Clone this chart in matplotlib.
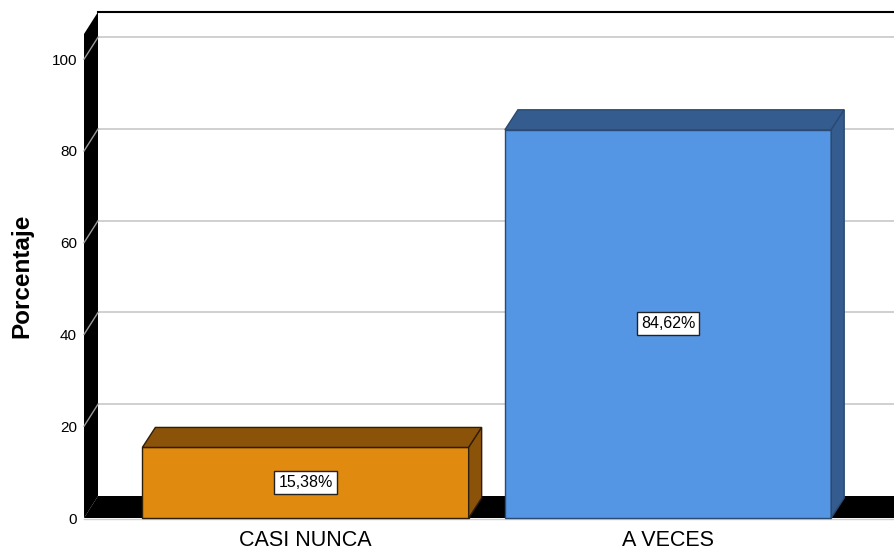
import matplotlib
matplotlib.use('Agg')
import matplotlib.pyplot as plt
from matplotlib.patches import Polygon
from matplotlib.lines import Line2D
import matplotlib.transforms as mtransforms
import numpy as np

plt.rcParams['font.family'] = ['Liberation Sans', 'DejaVu Sans']

# data
categories = ['CASI NUNCA', 'A VECES']
percentages = [15.38, 84.62]
yticks = [0, 20, 40, 60, 80, 100]

face_colors = ['#E08A10', '#5596E4']
shade_colors = ['#8B5309', '#345C8F']
edge_colors = ['#2E1E06', '#2A4A72']

# layout (pixels, figure is 895 x 553 at dpi 100)
W, H = 895, 553
wall_depth = np.array([14, 22])
bar_depth = np.array([13, 20])

fig = plt.figure(figsize=(W / 100, H / 100), dpi=100)
ax = fig.add_axes([84 / W, 35 / H, 811 / W, 484 / H])
ax.set_xlim(-0.611, 1.626)
ax.set_ylim(0, 105.5)
ax.patch.set_visible(False)
ax.set_zorder(10)
for s in ax.spines.values():
    s.set_visible(False)

ax.set_yticks(yticks)
ax.set_yticklabels([str(t) for t in yticks])
ax.set_xticks(range(len(categories)))
ax.set_xticklabels(categories)
ax.tick_params('y', length=0, pad=5, labelsize=11)
ax.tick_params('x', length=0, pad=9, labelsize=15.5)
ax.set_ylabel('Porcentaje', fontsize=17.5, fontweight='bold', labelpad=13)

ident = mtransforms.IdentityTransform()


def px(x, y):
    return ax.transData.transform((x, y))


def poly(points, fc, ec='none', lw=0, z=1):
    p = Polygon(np.array(points), closed=True, facecolor=fc, edgecolor=ec,
                linewidth=lw, transform=ident, zorder=z, clip_on=False)
    fig.patches.append(p)
    p.set_figure(fig)


def line(p0, p1, color, lw=1, z=1):
    ln = Line2D([p0[0], p1[0]], [p0[1], p1[1]], color=color, lw=lw,
                transform=ident, zorder=z)
    fig.lines.append(ln)
    ln.set_figure(fig)


x0, x1 = ax.get_xlim()
y0, y1 = ax.get_ylim()

# back wall gridlines and left wall diagonals
for t in yticks[1:]:
    line(px(x0, t) + wall_depth, px(x1, t) + wall_depth + [20, 0], '#C8C8C8', 1.2, z=1)
line(px(x0, y1) + wall_depth, px(x1, y1) + wall_depth + [20, 0], 'black', 1.5, z=1)

# left wall and floor slabs
poly([px(x0, 0), px(x0, y1), px(x0, y1) + wall_depth, px(x0, 0) + wall_depth], 'black', z=2)
poly([px(x0, 0), px(x0, 0) + wall_depth, px(x1, 0) + wall_depth + [20, 0],
      px(x1, 0) + [20, 0]], 'black', z=2)
for t in yticks[1:]:
    line(px(x0, t), px(x0, t) + wall_depth, '#9A9A9A', 1, z=3)
line(px(x0, 0) + [0, -1], px(x1, 0) + [20, -1], '#D0D0D0', 1, z=1)

# bars
bw = 0.9
for i, v in enumerate(percentages):
    a, b = i - bw / 2, i + bw / 2
    poly([px(a, 0), px(b, 0), px(b, v), px(a, v)], face_colors[i],
         edge_colors[i], 1, z=4)
    poly([px(a, v), px(b, v), px(b, v) + bar_depth, px(a, v) + bar_depth],
         shade_colors[i], edge_colors[i], 1, z=4)
    poly([px(b, 0), px(b, 0) + bar_depth, px(b, v) + bar_depth, px(b, v)],
         shade_colors[i], edge_colors[i], 1, z=4)
    lab = ('%.2f' % v).replace('.', ',') + '%'
    ax.text(i, v / 2, lab, ha='center', va='center', fontsize=11.5, zorder=6,
            bbox=dict(boxstyle='square,pad=0.25', fc='white', ec='#222222', lw=1))

fig.savefig('out.png', dpi=100)
